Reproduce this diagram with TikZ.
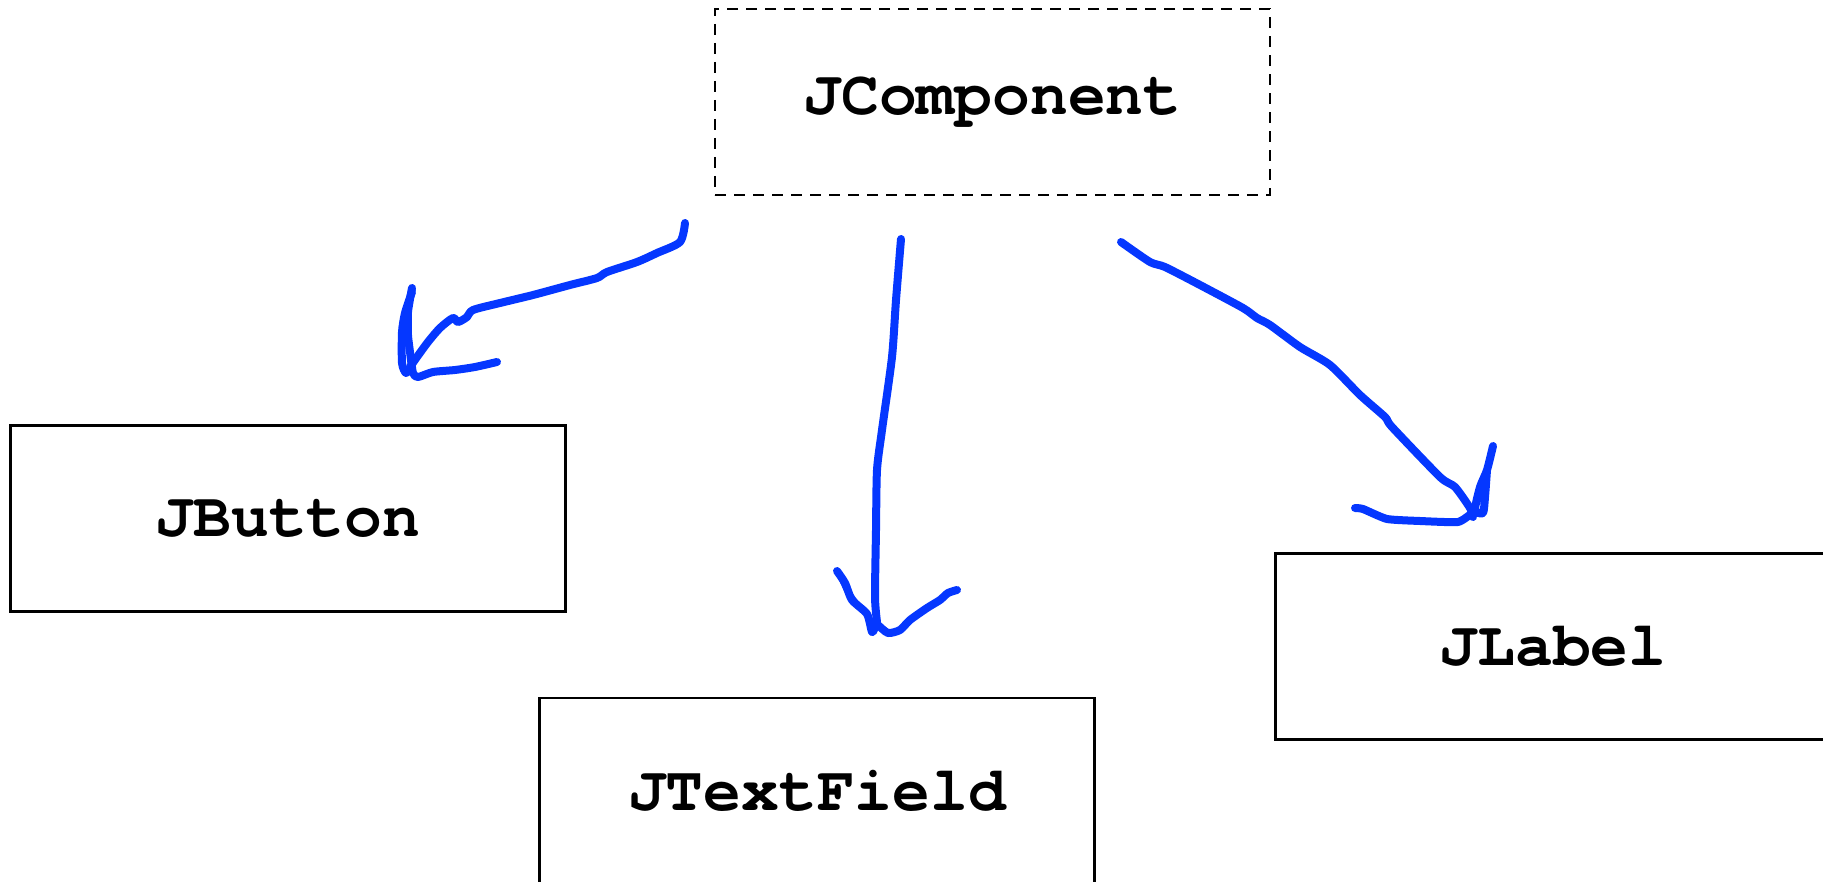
\documentclass[tikz,border=0pt]{standalone}
\usepackage{fontspec}
\setmonofont{texgyrecursor}[Extension=.otf, UprightFont=*-regular, BoldFont=*-bold]
\definecolor{penblue}{RGB}{5,55,255}
\begin{document}
\begin{tikzpicture}[x=1pt,y=-1pt,
  cls/.style={draw=black, line width=2.5pt, minimum width=555pt, minimum height=186pt,
              inner sep=0pt, font=\ttfamily\bfseries\fontsize{63}{70}\selectfont},
  abstractcls/.style={cls, dash pattern=on 11pt off 8pt},
  ink/.style={draw=penblue, line width=8pt, line cap=round, line join=round}]
\useasboundingbox (0,0) rectangle (1823,882);
\clip (0,0) rectangle (1823,882);

% class boxes
\node[abstractcls] (jcomp)  at (992.5,102)  {JComponent};
\node[cls]         (jbtn)   at (288,518.5)  {JButton};
\node[cls]         (jtext)  at (817,791)    {JTextField};
\node[cls]         (jlabel) at (1553,646.5) {JLabel};

% free ends of the hand-drawn arrows
\coordinate (s1) at (685,223);
\coordinate (t1) at (410,367);
\coordinate (s2) at (901,239);
\coordinate (t2) at (877,622);
\coordinate (s3) at (1121,242);
\coordinate (t3) at (1473,517);

% JComponent -> JButton
\draw[ink] plot[smooth, tension=0.45] coordinates {
  (s1) (680,242) (657,253) (637,262) (607,272) (597,278) (570,285) (533,295)
  (500,303) (473,310) (467,317) (458,322) (453,318) (440,328) (428,342)
  (417,357) (t1)};
\draw[ink] plot[smooth, tension=0.4] coordinates {
  (412,288) (408,312) (408,335) (410,352) (413,373) (418,377) (433,372)
  (455,370) (475,367) (497,362)};
\draw[ink] plot[smooth, tension=0.4] coordinates {
  (412,292) (405,313) (402,332) (402,363) (406,373) (412,366)};

% JComponent -> JTextField
\draw[ink] plot[smooth, tension=0.4] coordinates {
  (s2) (896,300) (892,357) (882,430) (877,470) (876,530) (875,597) (t2)};
\draw[ink] plot[smooth, tension=0.4] coordinates {
  (837,571) (845,583) (852,600) (867,614) (872,632) (875,627)};
\draw[ink, line width=6pt] plot[smooth, tension=0.4] coordinates {
  (839,573) (848,592) (860,608)};
\draw[ink] plot[smooth, tension=0.4] coordinates {
  (878,625) (888,633) (900,630) (910,620) (927,608) (940,600) (948,593) (957,590)};

% JComponent -> JLabel
\draw[ink] plot[smooth, tension=0.4] coordinates {
  (s3) (1150,262) (1165,267) (1200,285) (1243,308) (1257,318) (1270,325)
  (1300,347) (1330,365) (1360,395) (1385,417) (1392,427) (1440,477)
  (1455,487) (1470,508) (t3)};
\draw[ink] plot[smooth, tension=0.4] coordinates {
  (1493,446) (1487,470) (1480,487) (1475,510) (1483,513) (1485,497) (1487,470)};
\draw[ink] plot[smooth, tension=0.3] coordinates {
  (1472,513) (1458,522) (1420,521) (1387,519) (1363,509) (1355,508)};
\end{tikzpicture}
\end{document}
